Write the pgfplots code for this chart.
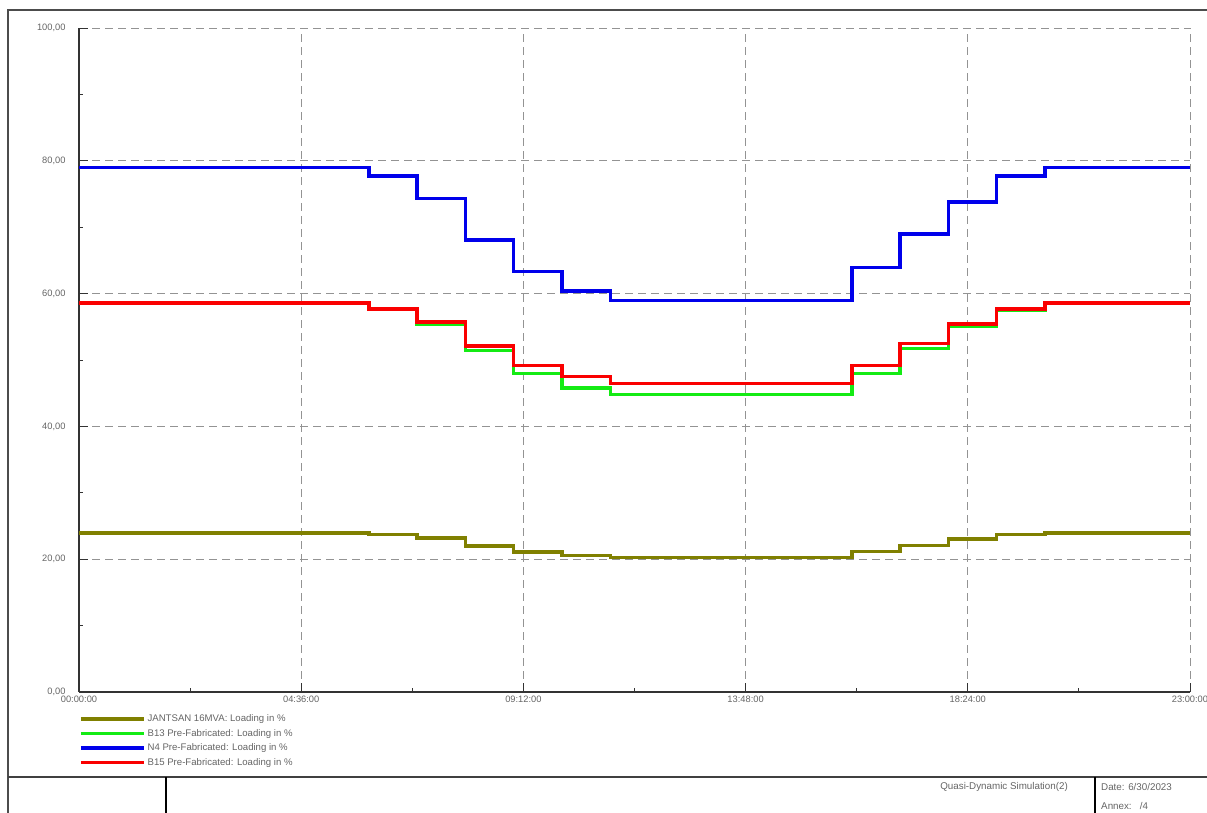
\documentclass[border=0pt]{standalone}
\usepackage{fontspec}
\setmainfont{Liberation Sans}
\usepackage{pgfplots}
\pgfplotsset{compat=1.18}
\definecolor{cOlive}{RGB}{128,128,0}
\definecolor{cGreen}{RGB}{20,235,20}
\definecolor{cBlue}{RGB}{0,0,235}
\definecolor{cRed}{RGB}{250,0,0}
\definecolor{cText}{RGB}{100,100,100}
\begin{document}
\begin{tikzpicture}
\useasboundingbox (0pt,0pt) rectangle (1207pt,813pt);
\draw[line width=2pt, black!70] (1207pt,803pt) -- (8pt,803pt) -- (8pt,0pt);
\draw[line width=2pt, black!75] (8pt,36pt) -- (1207pt,36pt);
\draw[line width=2pt, black] (166pt,36pt) -- (166pt,0pt);
\draw[line width=2pt, black] (1095pt,36pt) -- (1095pt,0pt);
\node[anchor=east, font=\fontsize{9.8}{11}\selectfont, text=cText, inner sep=0pt] at (1068pt,26pt) {Quasi-Dynamic Simulation(2)};
\node[anchor=west, font=\fontsize{9.8}{11}\selectfont, text=cText, inner sep=0pt] at (1101pt,26pt) {Date: 6/30/2023};
\node[anchor=west, font=\fontsize{9.8}{11}\selectfont, text=cText, inner sep=0pt] at (1101pt,7pt) {Annex:\ \ \ /4};
\begin{axis}[
  at={(79pt,121pt)}, anchor=south west, scale only axis,
  width=1111pt, height=664pt,
  xmin=0, xmax=23, ymin=0, ymax=100,
  axis x line=bottom, axis y line=left,
  axis line style={-, line width=1.5pt, black!80},
  xtick={0,4.6,9.2,13.8,18.4,23},
  xticklabels={00:00:00,04:36:00,09:12:00,13:48:00,18:24:00,23:00:00},
  minor xtick={2.3,6.9,11.5,16.1,20.7},
  ytick={0,20,40,60,80,100},
  yticklabels={{0,00},{20,00},{40,00},{60,00},{80,00},{100,00}},
  minor ytick={10,30,50,70,90},
  tick align=inside, major tick length=9pt, minor tick length=4pt,
  tick style={black!80, line width=0.8pt},
  grid=major,
  major grid style={dash pattern=on 8pt off 5pt, gray!85, line width=0.9pt},
  ticklabel style={font=\fontsize{9.3}{10}\selectfont, text=cText},
  yticklabel style={xshift=-10pt},
  xticklabel style={yshift=-0.5pt},
  legend cell align=left,
  legend image code/.code={\draw[#1] (0pt,0pt) -- (63pt,0pt);},
  legend style={at={(0,-0.034)}, anchor=north west, draw=none, fill=none,
    inner sep=0pt, row sep=6pt,
    nodes={inner sep=0pt, text=cText, font=\fontsize{9.6}{10}\selectfont},
    /tikz/every odd column/.append style={column sep=2pt}},
]
\addplot[const plot, color=cOlive, line width=3.4pt] coordinates {
(0,23.95) (6,23.7) (7,23.2) (8,22.0) (9,21.1) (10,20.6) (11,20.3)
(16,21.2) (17,22.1) (18,23.05) (19,23.75) (20,23.95) (23,23.95)};
\addlegendentry{JANTSAN 16MVA: Loading in \%}
\addplot[const plot, color=cGreen, line width=3.4pt] coordinates {
(0,58.5) (6,57.6) (7,55.3) (8,51.4) (9,48.0) (10,45.8) (11,44.8)
(16,48.0) (17,51.7) (18,55.0) (19,57.5) (20,58.5) (23,58.5)};
\addlegendentry{B13 Pre-Fabricated: Loading in \%}
\addplot[const plot, color=cBlue, line width=3.4pt] coordinates {
(0,79.0) (6,77.7) (7,74.3) (8,68.1) (9,63.3) (10,60.4) (11,59.0)
(16,63.9) (17,69.0) (18,73.8) (19,77.7) (20,79.0) (23,79.0)};
\addlegendentry{N4 Pre-Fabricated: Loading in \%}
\addplot[const plot, color=cRed, line width=3.4pt] coordinates {
(0,58.6) (6,57.7) (7,55.7) (8,52.1) (9,49.2) (10,47.5) (11,46.5)
(16,49.2) (17,52.5) (18,55.4) (19,57.7) (20,58.6) (23,58.6)};
\addlegendentry{B15  Pre-Fabricated: Loading in \%}
\end{axis}
\end{tikzpicture}
\end{document}
